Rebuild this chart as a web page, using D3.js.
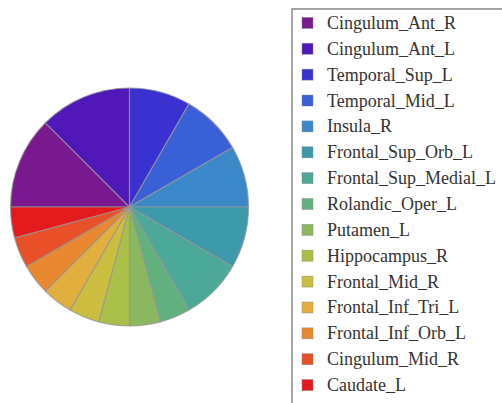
<!DOCTYPE html>
<html><head><meta charset="utf-8">
<script src="https://cdn.jsdelivr.net/npm/d3@7"></script>
<style>html,body{margin:0;padding:0;background:#fff;overflow:hidden}
text{font-family:"Liberation Serif","DejaVu Serif",serif;}</style>
</head><body>
<svg id="chart" width="502" height="403"></svg>
<script>
const categories = ["Cingulum_Ant_R","Cingulum_Ant_L","Temporal_Sup_L","Temporal_Mid_L","Insula_R","Frontal_Sup_Orb_L","Frontal_Sup_Medial_L","Rolandic_Oper_L","Putamen_L","Hippocampus_R","Frontal_Mid_R","Frontal_Inf_Tri_L","Frontal_Inf_Orb_L","Cingulum_Mid_R","Caudate_L"];
const values = [3,3,2,2,2,2,2,1,1,1,1,1,1,1,1];
const colors = ["#7a1890","#5018b8","#3a32d0","#3a60d8","#3a88c8","#3c9aaa","#4ca898","#62b07e","#8ab85e","#aabf48","#cabd40","#e2ae3e","#e88830","#e85028","#e41a1c"];

const svg = d3.select("#chart");
const cx = 129.5, cy = 207, r = 119;
const data = categories.map((c,i)=>({name:c, value:values[i], color:colors[i]}));
const pie = d3.pie().sort(null).value(d=>d.value).startAngle(-Math.PI/2).endAngle(3*Math.PI/2);
const arc = d3.arc().innerRadius(0).outerRadius(r);
const g = svg.append("g").attr("transform",`translate(${cx},${cy})`);
g.selectAll("path").data(pie(data)).join("path")
  .attr("d",arc).attr("fill",d=>d.data.color)
  .attr("stroke","rgba(150,150,150,0.75)").attr("stroke-width",1.2);

// legend
const lg = svg.append("g");
lg.append("rect").attr("x",292).attr("y",9).attr("width",260).attr("height",430)
  .attr("fill","#fff").attr("stroke","#8a8a8a").attr("stroke-width",1.5);
const y = d3.scaleBand().domain(categories).range([10,398]);
const items = lg.selectAll("g.item").data(data).join("g").attr("class","item")
  .attr("transform",d=>`translate(0,${y(d.name)+y.bandwidth()/2})`);
items.append("rect").attr("x",302).attr("y",-5.5).attr("width",11).attr("height",11)
  .attr("fill",d=>d.color).attr("stroke","rgba(130,130,130,0.5)").attr("stroke-width",0.8);
items.append("text").attr("x",327).attr("y",6)
  .style("font-family","'Liberation Serif', 'DejaVu Serif', serif").attr("font-size",18)
  .attr("fill","#333").text(d=>d.name);
</script>
</body></html>
